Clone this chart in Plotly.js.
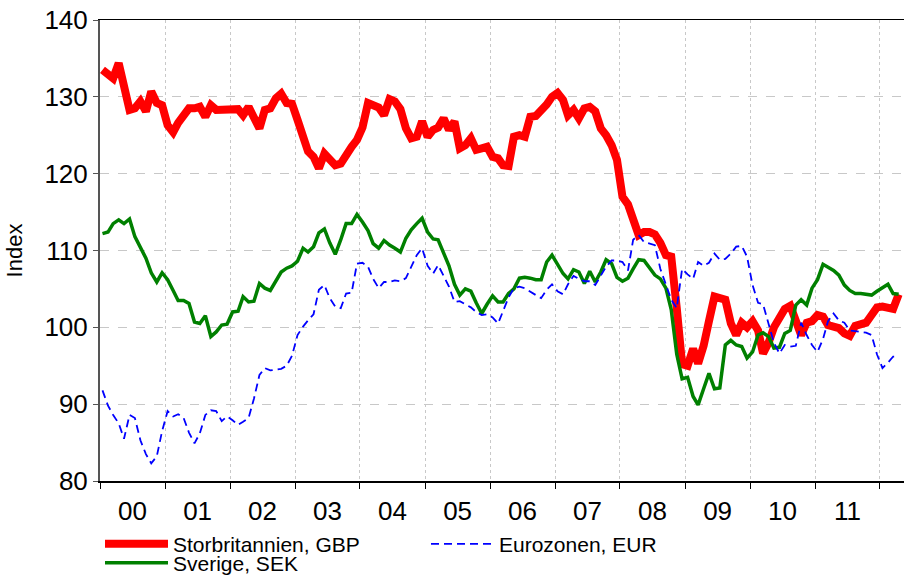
<!DOCTYPE html>
<html>
<head>
<meta charset="utf-8">
<script src="https://cdn.plot.ly/plotly-3.0.1.min.js"></script>
<style>html,body{margin:0;padding:0;background:#fff}#chart{width:904px;height:577px}</style>
</head>
<body>
<div id="chart"></div>
<script>
// Monthly observations, January 2000 to April 2012
const startYear = 2000;
const nMonths = 148;
const yearLabels = ["00","01","02","03","04","05","06","07","08","09","10","11"];

const gbp = [
133.5,133.0,132.4,134.4,131.8,128.3,128.5,129.4,128.1,130.7,129.2,128.9,
126.3,125.4,126.6,127.6,128.5,128.5,128.7,127.4,128.9,128.3,128.3,128.4,
128.5,128.4,127.6,128.7,127.3,125.9,128.3,128.5,129.8,130.4,129.2,129.1,
127.0,125.0,122.9,122.2,120.7,122.6,122.0,121.1,121.3,122.6,123.5,124.4,
126.0,129.2,129.0,128.6,127.6,129.7,129.4,128.4,125.9,124.6,124.8,126.8,
124.8,125.7,126.0,127.2,125.7,126.8,123.3,123.7,124.6,123.1,123.3,123.5,
122.2,122.0,121.1,121.0,124.8,125.0,124.8,127.4,127.5,128.1,129.0,130.0,
130.5,129.6,127.6,128.3,127.2,128.5,128.7,128.1,125.9,125.0,123.7,121.8,
117.0,116.0,114.0,112.0,112.4,112.4,112.1,111.0,109.4,109.2,102.5,95.2,
95.0,97.2,95.3,97.6,100.8,104.0,103.8,103.6,100.5,99.0,100.6,100.0,
100.8,99.6,96.6,98.0,100.0,101.3,102.4,102.8,100.5,99.0,100.6,100.8,
101.6,101.4,100.3,100.2,99.9,99.2,98.9,100.2,100.3,100.6,101.6,102.6,
102.7,102.6,102.4,104.3
];

const sek = [
112.2,112.4,113.5,114.0,113.5,114.1,111.8,110.4,109.0,107.1,105.9,107.1,
106.2,104.8,103.5,103.5,103.1,100.7,100.5,101.5,98.8,99.4,100.3,100.4,
102.0,102.1,104.0,103.3,103.4,105.7,105.1,104.8,106.1,107.2,107.7,108.0,
108.6,110.3,109.8,110.5,112.3,112.8,111.0,109.5,111.4,113.5,113.5,114.7,
113.7,112.6,110.9,110.3,111.3,110.7,110.3,109.8,111.6,112.7,113.5,114.2,
112.4,111.5,111.4,109.7,108.0,105.6,104.2,105.0,104.7,103.2,101.8,103.0,
104.1,103.3,103.3,104.4,105.0,106.4,106.5,106.4,106.2,106.2,108.5,109.4,
108.3,107.0,106.3,107.5,107.2,105.7,107.3,105.9,107.2,108.8,108.3,106.5,
106.0,106.4,107.6,108.8,108.7,107.8,106.8,106.3,105.1,102.3,96.5,93.3,
93.5,91.0,89.9,92.0,94.0,92.0,92.1,97.7,98.3,97.7,97.5,96.0,
96.8,99.0,99.3,98.8,97.3,97.4,99.2,99.6,102.9,103.6,102.9,105.1,
106.2,108.2,107.8,107.4,106.8,105.5,104.8,104.4,104.4,104.3,104.2,104.7,
105.1,105.6,104.4,104.3
];

const eur = [
91.8,89.8,88.6,87.5,85.5,88.6,88.2,85.3,83.5,82.3,83.2,86.5,
89.1,88.4,88.7,88.2,86.3,84.9,86.2,88.6,89.2,89.1,87.8,88.4,
87.9,87.3,87.7,88.2,90.7,93.8,94.7,94.4,94.5,94.6,95.0,96.3,
99.0,100.1,100.9,101.7,104.9,105.5,103.8,102.7,102.5,104.4,104.5,108.3,
108.4,107.9,106.3,105.1,105.9,105.9,106.1,106.0,106.4,107.8,109.4,110.3,
108.0,107.0,108.1,106.7,105.3,103.3,103.4,103.0,102.6,102.0,101.6,101.7,
101.3,100.5,102.0,103.9,105.1,105.3,105.1,104.7,104.2,103.8,104.9,105.6,
104.7,104.3,105.6,106.7,106.3,106.0,106.0,105.5,106.8,107.9,108.7,108.7,
108.5,107.4,111.4,112.0,111.1,110.9,110.7,107.6,105.5,103.6,102.5,107.6,
106.9,106.3,108.5,108.0,108.4,109.6,108.8,108.9,109.6,110.5,110.6,109.2,
105.5,103.2,103.0,100.5,98.0,96.6,97.7,97.5,97.6,100.6,99.0,97.7,
96.8,98.5,100.8,101.8,100.9,100.6,99.6,99.5,99.4,99.3,99.0,96.5,
94.7,95.4,96.2,96.2
];

const seriesNames = ["Storbritannien, GBP", "Eurozonen, EUR", "Sverige, SEK"];

// mid-month dates
const dates = [];
for (let i = 0; i < nMonths; i++) {
  const y = startYear + Math.floor(i / 12);
  const m = (i % 12) + 1;
  dates.push(y + "-" + String(m).padStart(2, "0") + "-15");
}

const traces = [
  {x: dates, y: gbp, name: seriesNames[0], type: "scatter", mode: "lines",
   line: {color: "#ff0000", width: 8}, legend: "legend", legendrank: 1},
  {x: dates, y: sek, name: seriesNames[2], type: "scatter", mode: "lines",
   line: {color: "#008000", width: 3.5}, legend: "legend2", legendrank: 1},
  {x: dates, y: eur, name: seriesNames[1], type: "scatter", mode: "lines",
   line: {color: "#0000ff", width: 1.8, dash: "8px,5px"}, legend: "legend", legendrank: 2}
];

const legendCommon = {orientation: "h", x: 0, xanchor: "left", yanchor: "middle",
  font: {size: 21}, itemwidth: 63, tracegroupgap: 0, borderwidth: 0,
  bgcolor: "rgba(0,0,0,0)"};

const layout = {
  width: 904, height: 577,
  margin: {l: 100, r: 0, t: 20, b: 96, autoexpand: false},
  paper_bgcolor: "#ffffff", plot_bgcolor: "#ffffff",
  font: {family: "Liberation Sans, Arial, sans-serif", size: 19, color: "#000"},
  showlegend: true,
  legend: Object.assign({}, legendCommon, {y: -0.137, entrywidth: 248, entrywidthmode: "pixels"}),
  legend2: Object.assign({}, legendCommon, {y: -0.178}),
  xaxis: {
    type: "date", range: ["2000-01-01", "2012-05-15"],
    tick0: "2000-01-01", dtick: "M12", tickformat: "%y",
    ticklabelmode: "period", ticks: "outside", ticklen: 6, tickcolor: "#000",
    showgrid: true, gridcolor: "#c8c8c8", griddash: "dot", gridwidth: 1,
    showline: true, linecolor: "#000", linewidth: 1.5, mirror: true,
    zeroline: false, tickfont: {size: 26}
  },
  yaxis: {
    range: [80, 140], dtick: 10, tick0: 80,
    ticks: "outside", ticklen: 5, tickcolor: "#555",
    showgrid: true, gridcolor: "#c8c8c8", griddash: "dash", gridwidth: 1,
    showline: true, linecolor: "#555", linewidth: 2, zeroline: false,
    title: {text: "Index", font: {size: 22}, standoff: 16},
    tickfont: {size: 26}
  }
};

Plotly.newPlot("chart", traces, layout, {displayModeBar: false, staticPlot: true});
</script>
</body>
</html>
